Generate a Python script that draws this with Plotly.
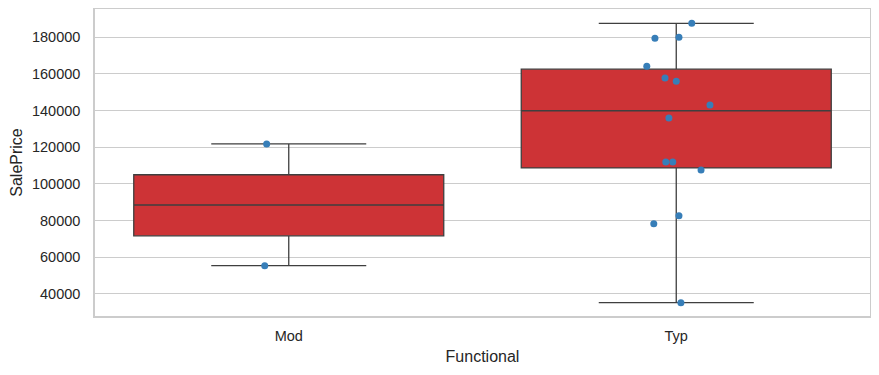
import plotly.graph_objects as go

categories = ["Mod", "Typ"]
q1 = [71700, 108700]
median = [88500, 139900]
q3 = [105000, 162600]
lower_whisker = [55400, 35200]
upper_whisker = [121800, 187600]

mod_prices = [121800, 55400]
mod_jitter = [-0.057, -0.062]
typ_prices = [187600, 179500, 180000, 164200, 157700, 156000, 143000, 135900,
              112000, 112000, 107600, 82600, 78200, 35200]
typ_jitter = [0.040, -0.055, 0.007, -0.076, -0.029, 0.0, 0.087, -0.019,
              -0.027, -0.009, 0.064, 0.007, -0.058, 0.012]

y_ticks = [40000, 60000, 80000, 100000, 120000, 140000, 160000, 180000]

pos = list(range(len(categories)))

fig = go.Figure()
fig.add_trace(go.Box(
    x=pos, q1=q1, median=median, q3=q3,
    lowerfence=lower_whisker, upperfence=upper_whisker,
    width=0.8, whiskerwidth=0.5,
    fillcolor="#cd3336", line=dict(color="#3f3f3f", width=1.3),
    boxpoints=False, showlegend=False, hoverinfo="skip",
))

pts_x = [0 + j for j in mod_jitter] + [1 + j for j in typ_jitter]
pts_y = mod_prices + typ_prices
fig.add_trace(go.Scatter(
    x=pts_x, y=pts_y, mode="markers",
    marker=dict(color="#377eb8", size=7, line=dict(width=0)),
    showlegend=False,
))

font_family = "Liberation Sans, Arial, sans-serif"
fig.update_layout(
    width=871, height=367,
    margin=dict(l=87, r=9, t=1, b=59, autoexpand=False),
    paper_bgcolor="white", plot_bgcolor="white",
    font=dict(family=font_family, size=14.5, color="#262626"),
    xaxis=dict(
        range=[-0.5, 1.5], tickmode="array", tickvals=pos, ticktext=categories,
        showgrid=False, zeroline=False, showline=True, mirror=True,
        linecolor="#cccccc", linewidth=1.5, ticks="",
        ticklabelstandoff=6,
        title=dict(text="Functional", font=dict(size=16), standoff=8),
        tickfont=dict(size=14.5),
    ),
    yaxis=dict(
        range=[27950, 195400], tickmode="array", tickvals=y_ticks,
        ticktext=[str(v) for v in y_ticks],
        showgrid=True, gridcolor="#cccccc", gridwidth=1,
        zeroline=False, showline=True, mirror=True,
        linecolor="#cccccc", linewidth=1.5, ticks="",
        ticklabelstandoff=10,
        title=dict(text="SalePrice", font=dict(size=16), standoff=10),
        tickfont=dict(size=14.5),
    ),
)

fig.write_html("out.html")
